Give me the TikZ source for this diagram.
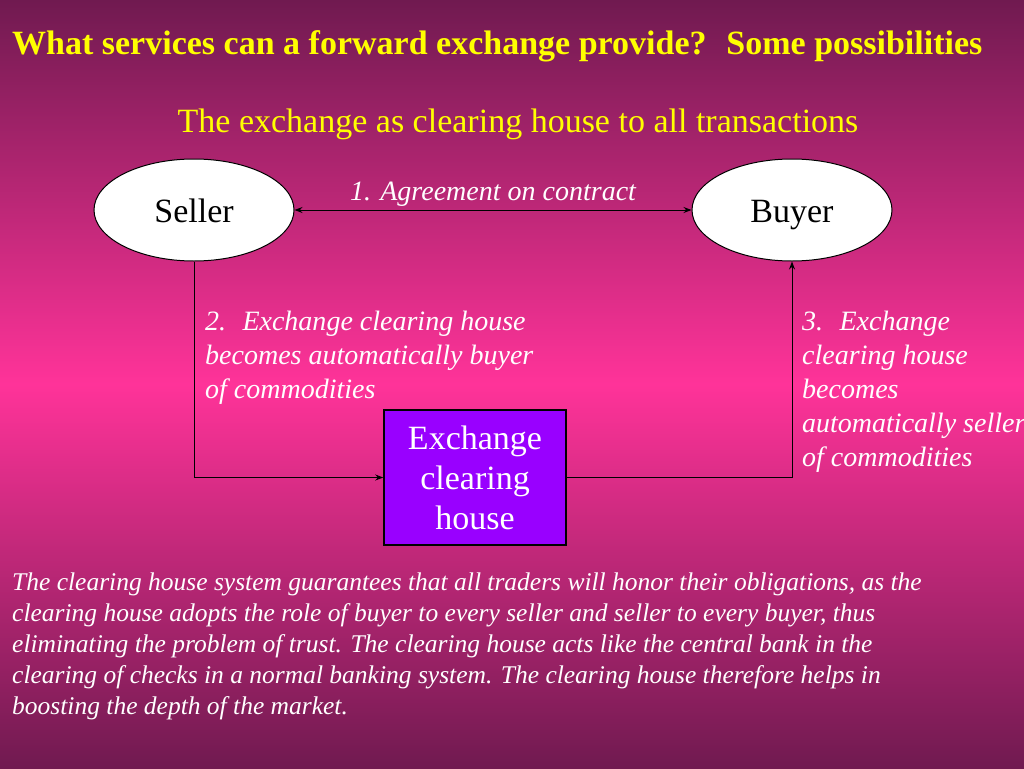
\documentclass[tikz,border=0pt]{standalone}
\usepackage{fontspec}
\setmainfont{Liberation Serif}
\usetikzlibrary{shapes.geometric,arrows.meta,positioning}
\definecolor{slidedark}{RGB}{112,26,80}
\definecolor{slidepink}{RGB}{255,51,153}
\definecolor{housepurple}{RGB}{153,0,255}
\definecolor{titleyellow}{RGB}{255,255,0}
\tikzset{>={Stealth[length=8pt,width=6pt]}}
\tikzset{%
    party/.style={ellipse, draw, fill=white, line width=1pt,
        minimum width=200pt, minimum height=102pt, inner sep=0pt,
        font=\fontsize{34}{40}\selectfont, text height=28pt, text depth=4pt},
    house/.style={rectangle, draw, fill=housepurple, line width=1.5pt, text=white,
        minimum width=182pt, minimum height=135pt, inner sep=0pt, align=center,
        font=\fontsize{34}{40}\selectfont},
    note/.style={text=white, inner sep=0pt, anchor=north west, align=left,
        font=\itshape\fontsize{28}{34}\selectfont},
    link/.style={draw, line width=1pt}
}

\begin{document}
\begin{tikzpicture}[x=1pt,y=-1pt]
\useasboundingbox (0,0) rectangle (1024,768);
\clip (0,0) rectangle (1024,768);
\shade[top color=slidedark, bottom color=slidedark, middle color=slidepink] (0,0) rectangle (1024,768);
\node[text=titleyellow, anchor=base west, inner sep=0pt, font=\bfseries\fontsize{34}{40}\selectfont] (title) at (12,55)
    {What services can a forward exchange provide?~ Some possibilities};
\node[text=titleyellow, anchor=base, inner sep=0pt, font=\fontsize{34}{40}\selectfont] (subtitle) at (518,132)
    {The exchange as clearing house to all transactions};
\node[party] (Seller) at (194,210) {Seller};
\node[party] (Buyer) at (792,210) {Buyer};
\node[house] (House) at (475,477.5) {Exchange\\clearing\\house};
\draw[link,<->] (Seller.east) -- node[midway, anchor=base, yshift=10pt, inner sep=0pt, text=white,
    font=\itshape\fontsize{28}{34}\selectfont] (agree) {1. Agreement on contract} (Buyer.west);
\draw[link,->] (Seller.south) |- (House.west);
\draw[link,->] (House.east) -| (Buyer.south);
\node[note] (buyernote) at (205,311) {2.~ Exchange clearing house\\becomes automatically buyer\\of commodities};
\node[note] (sellernote) at (802,311) {3.~ Exchange\\clearing house\\becomes\\automatically seller\\of commodities};
\node[note, font=\itshape\fontsize{25.5}{31}\selectfont] (summary) at (12,573)
    {The clearing house system guarantees that all traders will honor their obligations, as the\\
     clearing house adopts the role of buyer to every seller and seller to every buyer, thus\\
     eliminating the problem of trust. The clearing house acts like the central bank in the\\
     clearing of checks in a normal banking system. The clearing house therefore helps in\\
     boosting the depth of the market.};
\end{tikzpicture}
\end{document}
